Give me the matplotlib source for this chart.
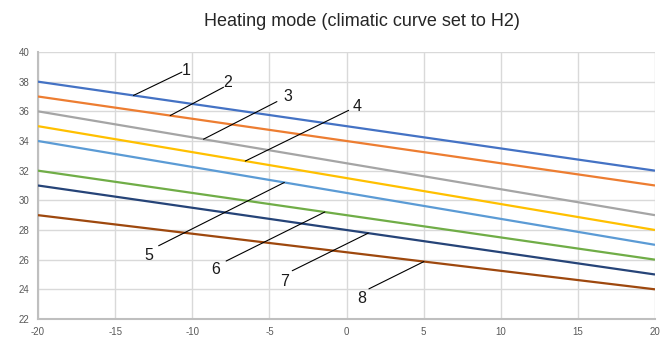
import numpy as np
import matplotlib
matplotlib.use("Agg")
import matplotlib.pyplot as plt

plt.rcParams['font.family'] = ['Liberation Sans', 'DejaVu Sans']
plt.rcParams['axes.unicode_minus'] = False

# Outdoor temperature (x) and water temperature at the ends of each curve
x_vals = [-20, 20]
curve_labels = ["1", "2", "3", "4", "5", "6", "7", "8"]
curve_start = [38, 37, 36, 35, 34, 32, 31, 29]
curve_end = [32, 31, 29, 28, 27, 26, 25, 24]
colors = ["#4472C4", "#ED7D31", "#A5A5A5", "#FFC000",
          "#5B9BD5", "#70AD47", "#264478", "#9E480E"]

x_ticks = [-20, -15, -10, -5, 0, 5, 10, 15, 20]
y_ticks = [22, 24, 26, 28, 30, 32, 34, 36, 38, 40]
title = "Heating mode (climatic curve set to H2)"

# label anchor x on each curve, leader end offset and text offset (pixels)
anchor_x = [-13.81, -11.43, -9.27, -6.56, -4.03, -1.41, 1.41, 5.02]
leader_off = [(48.4, 23.3), (53.3, 28.3), (73.4, 37.6), (103.3, 50.7),
              (-125.7, -63.3), (-98.6, -49.0), (-76.0, -37.6), (-55.0, -27.3)]
text_off = [(4.6, 1.7), (4.4, 5.0), (10.6, 5.0), (8.4, 4.3),
            (-10.0, -9.4), (-10.7, -8.3), (-7.7, -10.7), (-7.3, -10.0)]

fig = plt.figure(figsize=(6.70, 3.38), dpi=100)
ax = fig.add_axes([38/670, 1-319/338, (655-38)/670, (319-52)/338])

for s, e, c in zip(curve_start, curve_end, colors):
    ax.plot(x_vals, [s, e], color=c, lw=1.6, solid_capstyle='butt', zorder=3)

for i, lab in enumerate(curve_labels):
    ax_x = anchor_x[i]
    ay = np.interp(ax_x, x_vals, [curve_start[i], curve_end[i]])
    lx, ly = leader_off[i]
    tx, ty = text_off[i]
    ax.annotate('', xy=(ax_x, ay), xytext=(lx, ly), textcoords='offset pixels',
                arrowprops=dict(arrowstyle='-', color='black', lw=0.8,
                                shrinkA=0, shrinkB=0), zorder=4)
    ax.annotate(lab, xy=(ax_x, ay), xytext=(lx + tx, ly + ty),
                textcoords='offset pixels', ha='center', va='center',
                fontsize=11.5, color='#1a1a1a', zorder=5)

ax.set_xlim(-20, 20)
ax.set_ylim(22, 40)
ax.set_xticks(x_ticks)
ax.set_yticks(y_ticks)
ax.grid(True, color='#d9d9d9', lw=1.0, zorder=0)
ax.set_axisbelow(True)
for sp in ['top', 'right']:
    ax.spines[sp].set_visible(False)
for sp in ['left', 'bottom']:
    ax.spines[sp].set_color('#bfbfbf')
    ax.spines[sp].set_linewidth(1.5)
ax.tick_params(length=0, labelsize=7, colors='#595959', pad=6)

fig.text(362/670, 1-22/338, title, ha='center', va='center',
         fontsize=13, color='#262626')

fig.savefig('out.png', dpi=100)
